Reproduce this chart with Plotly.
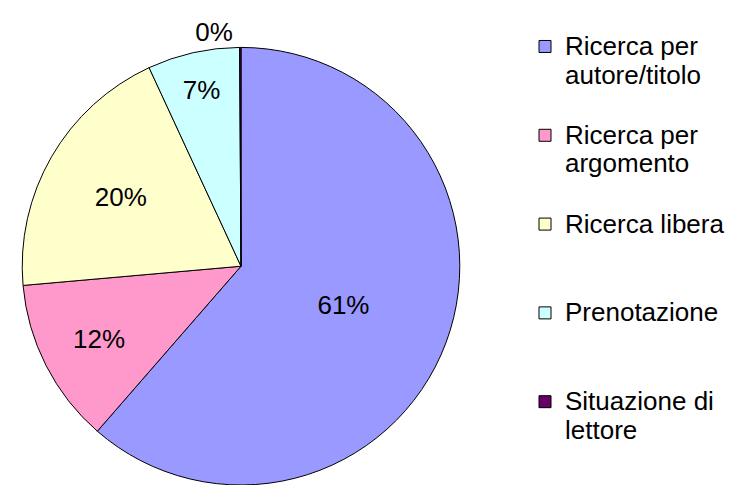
import plotly.graph_objects as go

categories = ["Ricerca per autore/titolo", "Ricerca per argomento", "Ricerca libera",
              "Prenotazione", "Situazione di lettore"]
legend_text = ["Ricerca per<br>autore/titolo<br>\u00a0",
               "Ricerca per<br>argomento<br>\u00a0",
               "Ricerca libera<br>\u00a0<br>\u00a0",
               "Prenotazione<br>\u00a0<br>\u00a0",
               "Situazione di<br>lettore<br>\u00a0"]
values = [61.4, 12.2, 19.5, 6.8, 0.1]
colors = ["#9999FF", "#FF99CC", "#FFFFCC", "#CCFFFF", "#660066"]
text_positions = ["inside", "inside", "inside", "inside", "outside"]

FONT = "Liberation Sans, Arial, sans-serif"
W, H = 743, 491

fig = go.Figure(go.Pie(
    labels=[f'<span style="font-size:26px">{t}</span>' for t in legend_text],
    values=values,
    sort=False,
    direction="clockwise",
    rotation=0,
    marker=dict(colors=colors, line=dict(color="black", width=1)),
    texttemplate="%{percent:.0%}",
    textposition=text_positions,
    insidetextorientation="horizontal",
    textfont=dict(family=FONT, size=26, color="black"),
    hovertext=categories,
    hoverinfo="text+percent",
    domain=dict(x=[21 / W, 461 / W], y=[0, 1 - 48 / H]),
))

fig.update_layout(
    width=W, height=H,
    margin=dict(l=0, r=0, t=0, b=0),
    paper_bgcolor="white",
    plot_bgcolor="white",
    font=dict(family=FONT, color="black"),
    legend=dict(
        x=525 / W, xanchor="left",
        y=1 - 26 / H, yanchor="top",
        font=dict(family=FONT, size=22, color="black"),
        valign="top",
        bgcolor="rgba(0,0,0,0)",
    ),
)

fig.write_html("out.html",
               config={"displayModeBar": False},
               post_script="document.body.style.margin='0';document.body.style.overflow='hidden';")
